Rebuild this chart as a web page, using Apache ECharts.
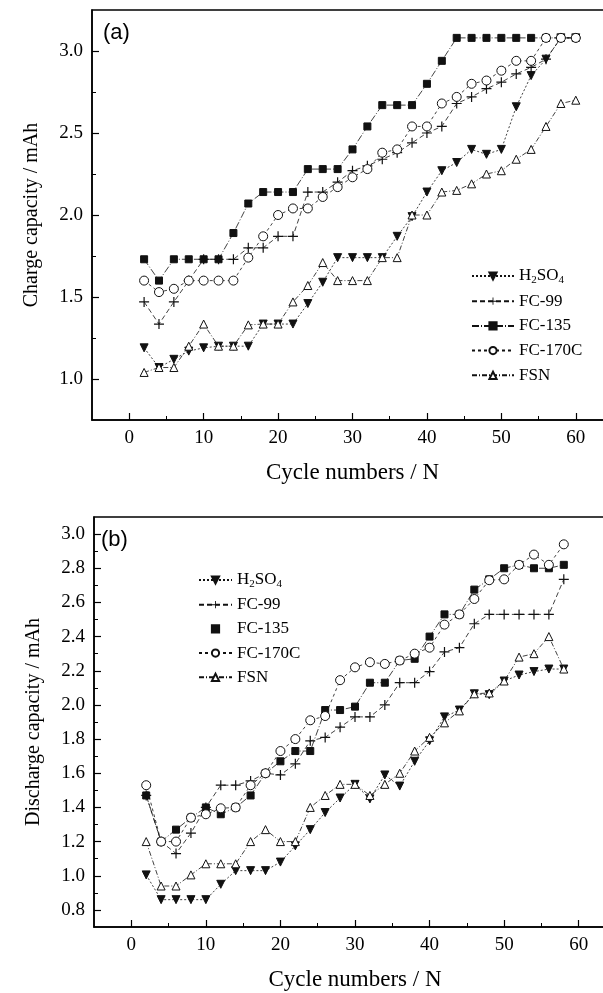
<!DOCTYPE html>
<html>
<head>
<meta charset="utf-8">
<script src="https://cdn.jsdelivr.net/npm/echarts@6/dist/echarts.min.js"></script>
<style>
html,body{margin:0;padding:0;background:#fff;}
#chart{width:603px;height:993px;}
</style>
</head>
<body>
<div id="chart"></div>
<script>
// ---------- data ----------
const seriesNames = ['H2SO4', 'FC-99', 'FC-135', 'FC-170C', 'FSN'];

// (a) charge capacity, cycles 2..60
const cyclesA = [2,4,6,8,10,12,14,16,18,20,22,24,26,28,30,32,34,36,38,40,42,44,46,48,50,52,54,56,58,60];
const h2so4A  = [1.19,1.07,1.12,1.17,1.19,1.20,1.20,1.20,1.335,1.335,1.335,1.46,1.59,1.74,1.74,1.74,1.74,1.87,1.99,2.14,2.27,2.32,2.40,2.37,2.40,2.66,2.85,2.95,3.08,3.08];
const fc99A   = [1.47,1.335,1.47,1.60,1.73,1.73,1.73,1.80,1.80,1.87,1.87,2.14,2.14,2.20,2.27,2.30,2.34,2.38,2.44,2.50,2.54,2.68,2.72,2.77,2.81,2.86,2.90,2.95,3.08,3.08];
const fc135A  = [1.73,1.60,1.73,1.73,1.73,1.73,1.89,2.07,2.14,2.14,2.14,2.28,2.28,2.28,2.40,2.54,2.67,2.67,2.67,2.80,2.94,3.08,3.08,3.08,3.08,3.08,3.08,3.08,3.08,3.08];
const fc170cA = [1.60,1.53,1.55,1.60,1.60,1.60,1.60,1.74,1.87,2.00,2.04,2.04,2.11,2.17,2.23,2.28,2.38,2.40,2.54,2.54,2.68,2.72,2.80,2.82,2.88,2.94,2.94,3.08,3.08,3.08];
const fsnA    = [1.04,1.07,1.07,1.20,1.335,1.20,1.20,1.33,1.335,1.335,1.47,1.57,1.71,1.60,1.60,1.60,1.74,1.74,2.00,2.00,2.14,2.15,2.19,2.25,2.27,2.34,2.40,2.54,2.68,2.70];

// (b) discharge capacity, cycles 2..58
const cyclesB = [2,4,6,8,10,12,14,16,18,20,22,24,26,28,30,32,34,36,38,40,42,44,46,48,50,52,54,56,58];
const h2so4B  = [1.005,0.86,0.86,0.86,0.86,0.95,1.03,1.03,1.03,1.08,1.175,1.27,1.37,1.455,1.535,1.45,1.59,1.525,1.67,1.79,1.93,1.97,2.065,2.06,2.14,2.175,2.195,2.21,2.21];
const fc99B   = [1.47,1.20,1.13,1.25,1.40,1.53,1.53,1.555,1.60,1.59,1.655,1.79,1.81,1.87,1.93,1.93,2.00,2.13,2.13,2.195,2.31,2.335,2.475,2.53,2.53,2.53,2.53,2.53,2.735];
const fc135B  = [1.47,1.20,1.27,1.34,1.40,1.36,1.40,1.47,1.60,1.67,1.73,1.73,1.97,1.97,1.99,2.13,2.13,2.26,2.27,2.40,2.53,2.53,2.675,2.735,2.80,2.82,2.80,2.80,2.82];
const fc170cB = [1.53,1.20,1.20,1.34,1.36,1.395,1.40,1.53,1.60,1.73,1.80,1.91,1.935,2.145,2.22,2.25,2.24,2.26,2.30,2.335,2.47,2.53,2.62,2.73,2.735,2.82,2.88,2.82,2.94];
const fsnB    = [1.20,0.94,0.94,1.005,1.07,1.07,1.07,1.20,1.27,1.20,1.20,1.40,1.47,1.535,1.535,1.47,1.535,1.60,1.73,1.81,1.895,1.965,2.065,2.07,2.14,2.28,2.30,2.40,2.21];

// tick values
const xMajorTicks = [0,10,20,30,40,50,60];
const xMinorTicks = [5,15,25,35,45,55];
const yMajorTicksA = [1.0,1.5,2.0,2.5,3.0];
const yMinorTicksA = [1.25,1.75,2.25,2.75];
const yMajorTicksB = [0.8,1.0,1.2,1.4,1.6,1.8,2.0,2.2,2.4,2.6,2.8,3.0];
const yMinorTicksB = [0.9,1.1,1.3,1.5,1.7,1.9,2.1,2.3,2.5,2.7,2.9];

// ---------- styling ----------
const SERIF = '"Liberation Serif", "Times New Roman", serif';
const INK = '#111';
const plusPath = 'path://M4.4,0H5.6V4.4H10V5.6H5.6V10H4.4V5.6H0V4.4H4.4Z';

const styles = {
  'H2SO4':   {symbol:'triangle', rotate:180, size:8, fill:INK, border:INK, dash:[2,2]},
  'FC-99':   {symbol:plusPath, rotate:0, size:10, fill:INK, border:INK, bw:0, dash:[5,3]},
  'FC-135':  {symbol:'rect', rotate:0, size:7, fill:INK, border:INK, dash:[7,2,1,2]},
  'FC-170C': {symbol:'circle', rotate:0, size:9, fill:'#fff', border:INK, dash:[3,3]},
  'FSN':     {symbol:'triangle', rotate:0, size:8, fill:'#fff', border:INK, dash:[5,2,1,2]}
};

function pairs(xs, ys){ return xs.map((x,i)=>[x, ys[i]]); }

function mk(name, xs, ys, idx, z){
  const s = styles[name];
  return {
    name: name, type:'line', xAxisIndex: idx, yAxisIndex: idx,
    data: pairs(xs, ys),
    symbol: s.symbol, symbolSize: s.size, symbolRotate: s.rotate, symbolKeepAspect:true,
    showSymbol:true,
    lineStyle:{color:INK, width:0.8, type:s.dash},
    itemStyle:{color:s.fill, borderColor:s.border, borderWidth: s.bw===0?0:1},
    z: z, animation:false, silent:true
  };
}

function xMain(g, name){
  return {
    type:'value', gridIndex:g, min:-5, max:65, interval:5, position:'bottom',
    axisLine:{show:true, onZero:false, lineStyle:{color:'#000', width:1.5}},
    axisTick:{show:true, inside:true, length:7, customValues:xMajorTicks, lineStyle:{color:'#000', width:1.2}},
    axisLabel:{show:true, customValues:xMajorTicks, margin:9, color:'#000', fontFamily:SERIF, fontSize:19,
      formatter:v=> (Math.abs(v%10)<1e-6 && v>=0 && v<=60) ? String(v) : ''},
    splitLine:{show:false},
    name:name, nameLocation:'middle', nameGap:41,
    nameTextStyle:{color:'#000', fontFamily:SERIF, fontSize:23}
  };
}
function xMinor(g){
  return {
    type:'value', gridIndex:g, min:-5, max:65, interval:5, position:'bottom',
    axisLine:{show:false, onZero:false},
    axisTick:{show:true, inside:true, length:4, customValues:xMinorTicks, lineStyle:{color:'#000', width:1}},
    axisLabel:{show:false}, splitLine:{show:false}
  };
}
function yMain(g, min, max, major, name, fmt){
  return {
    type:'value', gridIndex:g, min:min, max:max, position:'left',
    axisLine:{show:true, onZero:false, lineStyle:{color:'#000', width:1.5}},
    axisTick:{show:true, inside:true, length:7, customValues:major, lineStyle:{color:'#000', width:1.2}},
    axisLabel:{show:true, customValues:major, margin:9, color:'#000', fontFamily:SERIF, fontSize:19, formatter:fmt},
    splitLine:{show:false},
    name:name, nameLocation:'middle', nameGap:50, nameRotate:90,
    nameTextStyle:{color:'#000', fontFamily:SERIF, fontSize:20}
  };
}
function yMinor(g, min, max, minor){
  return {
    type:'value', gridIndex:g, min:min, max:max, position:'left',
    axisLine:{show:false, onZero:false},
    axisTick:{show:true, inside:true, length:4, customValues:minor, lineStyle:{color:'#000', width:1}},
    axisLabel:{show:false}, splitLine:{show:false}
  };
}

const legendText = {
  color:'#000', fontFamily:SERIF, fontSize:17, lineHeight:18,
  rich:{
    n:{fontFamily:SERIF, fontSize:17, color:'#000'},
    s:{fontFamily:SERIF, fontSize:11, color:'#000', padding:[8,0,0,0]}
  }
};
const legendFmt = n => n==='H2SO4' ? '{n|H}{s|2}{n|SO}{s|4}' : n;

const option = {
  backgroundColor:'#fff',
  animation:false,
  grid:[
    {left:92, top:10, width:521, height:410, show:true, borderColor:'#000', borderWidth:1.5, backgroundColor:'transparent', outerBoundsMode:'none', containLabel:false},
    {left:94, top:517, width:522, height:410, show:true, borderColor:'#000', borderWidth:1.5, backgroundColor:'transparent', outerBoundsMode:'none', containLabel:false}
  ],
  xAxis:[ xMain(0,'Cycle numbers / N'), xMinor(0), xMain(1,'Cycle numbers / N'), xMinor(1) ],
  yAxis:[
    yMain(0, 0.75, 3.25, yMajorTicksA, 'Charge capacity / mAh', v=>v.toFixed(1)),
    yMinor(0, 0.75, 3.25, yMinorTicksA),
    yMain(1, 0.7, 3.1, yMajorTicksB, 'Discharge capacity / mAh', v=>v.toFixed(1)),
    yMinor(1, 0.7, 3.1, yMinorTicksB)
  ],
  legend:[
    {
      orient:'vertical', left:471, top:267, padding:0, itemWidth:42, itemHeight:9, itemGap:6.7, itemTextGap:5,
      selectedMode:false, textStyle:legendText, formatter:legendFmt,
      data: seriesNames.map(n=>({name:n}))
    },
    {
      orient:'vertical', left:198, top:571, padding:0, itemWidth:33, itemHeight:9, itemGap:6.2, itemTextGap:5,
      selectedMode:false, textStyle:legendText, formatter:legendFmt,
      data: seriesNames.map(n=> n==='FC-135' ? {name:n, lineStyle:{opacity:0}} : {name:n})
    }
  ],
  graphic:[
    {type:'text', left:103, top:22, style:{text:'(a)', font:'22px "Liberation Sans", Arial, sans-serif', fill:'#000'}},
    {type:'text', left:101, top:529, style:{text:'(b)', font:'22px "Liberation Sans", Arial, sans-serif', fill:'#000'}}
  ],
  series:[
    mk('FC-135', cyclesA, fc135A, 0, 2),
    mk('FC-99', cyclesA, fc99A, 0, 3),
    mk('H2SO4', cyclesA, h2so4A, 0, 4),
    mk('FSN', cyclesA, fsnA, 0, 5),
    mk('FC-170C', cyclesA, fc170cA, 0, 6),
    mk('FC-135', cyclesB, fc135B, 2, 2),
    mk('FC-99', cyclesB, fc99B, 2, 3),
    mk('H2SO4', cyclesB, h2so4B, 2, 4),
    mk('FSN', cyclesB, fsnB, 2, 5),
    mk('FC-170C', cyclesB, fc170cB, 2, 6)
  ]
};

const chart = echarts.init(document.getElementById('chart'), null, {renderer:'canvas'});
chart.setOption(option);
</script>
</body>
</html>
